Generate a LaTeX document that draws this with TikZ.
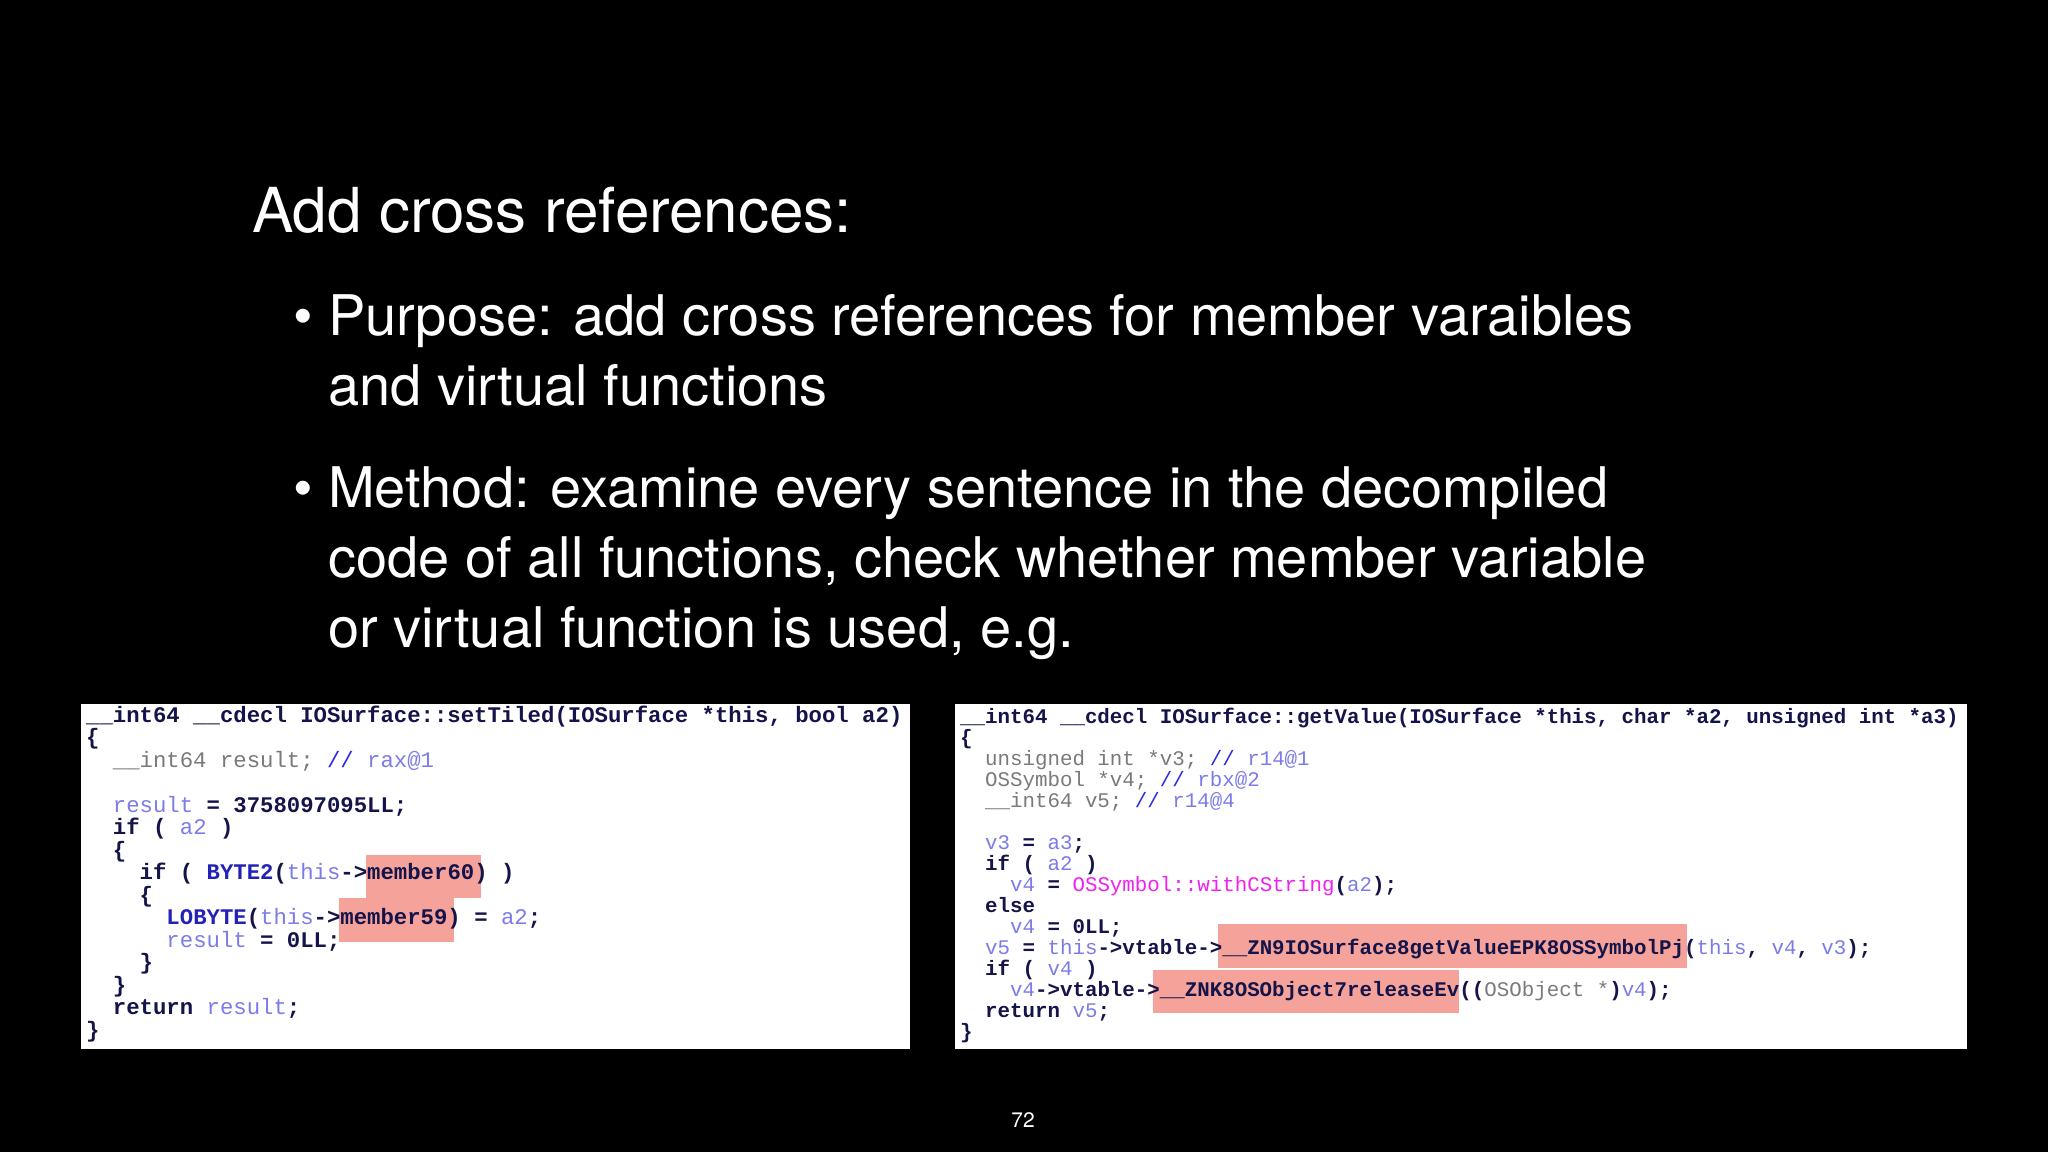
\documentclass[tikz,border=0pt]{standalone}
\usepackage{fontspec}
\setmainfont{TeX Gyre Heros}
\newfontfamily\codefont{Liberation Mono}
\definecolor{kwc}{HTML}{14144A}
\definecolor{vrc}{HTML}{7C7CE8}
\definecolor{cmc}{HTML}{2A2AE0}
\definecolor{grc}{HTML}{7A7A7A}
\definecolor{fnc}{HTML}{2222B8}
\definecolor{mgc}{HTML}{F020F0}
\definecolor{hlc}{HTML}{F4A29A}
\newcommand{\K}[1]{\textcolor{kwc}{\bfseries #1}}
\newcommand{\V}[1]{\textcolor{vrc}{#1}}
\newcommand{\C}[1]{\textcolor{cmc}{#1}}
\newcommand{\G}[1]{\textcolor{grc}{#1}}
\newcommand{\F}[1]{\textcolor{fnc}{\bfseries #1}}
\newcommand{\M}[1]{\textcolor{mgc}{#1}}
\newcommand{\myind}[1]{\hspace*{#1\fontcharwd\font`0}}
\begin{document}
\begin{tikzpicture}[x=1pt,y=-1pt,
  slidetxt/.style={anchor=base west,inner sep=0,text=white,font=\fontsize{56}{60}\selectfont},
  codeL/.style={anchor=base west,inner sep=0,font=\codefont\fontsize{22.3}{22}\selectfont},
  codeR/.style={anchor=base west,inner sep=0,font=\codefont\fontsize{20.8}{21}\selectfont},
  panel/.style={fill=white,draw=none},
  hl/.style={fill=hlc,draw=none}]
\fill[black] (0,0) rectangle (2048,1152);
\useasboundingbox (0,0) rectangle (2048,1152);
\node[slidetxt,font=\fontsize{62}{66}\selectfont] (title) at (252,232) {Add cross references:};
\node[slidetxt] (b1) at (293,335) {\textbullet};
\node[slidetxt] (l1) at (328,335) {Purpose: add cross references for member varaibles};
\node[slidetxt] (l2) at (328,405) {and virtual functions};
\node[slidetxt] (b2) at (293,507) {\textbullet};
\node[slidetxt] (l3) at (328,507) {Method: examine every sentence in the decompiled};
\node[slidetxt] (l4) at (328,577) {code of all functions, check whether member variable};
\node[slidetxt] (l5) at (328,647) {or virtual function is used, e.g.};
\node[anchor=base,inner sep=0,text=white,font=\fontsize{21}{21}\selectfont] (pg) at (1023,1127) {72};
% left panel
\fill[panel] (81,704) rectangle (910,1049);
\fill[hl] (366,855) rectangle (481,898);
\fill[hl] (339,898) rectangle (454,942);
\node[codeL] (cl0) at (86,722) {\K{\_\_int64 \_\_cdecl IOSurface::setTiled(IOSurface *this, bool a2)}};
\node[codeL] (cl1) at (86,744.5) {\K{\{}};
\node[codeL] (cl2) at (86,767) {\myind{2}\G{\_\_int64 result;} \C{//} \V{rax@1}};
\node[codeL] (cl4) at (86,812) {\myind{2}\V{result} \K{= 3758097095LL;}};
\node[codeL] (cl5) at (86,834.5) {\myind{2}\K{if (} \V{a2} \K{)}};
\node[codeL] (cl6) at (86,857) {\myind{2}\K{\{}};
\node[codeL] (cl7) at (86,879.5) {\myind{4}\K{if (} \F{BYTE2}\K{(}\V{this}\K{->member60) )}};
\node[codeL] (cl8) at (86,902) {\myind{4}\K{\{}};
\node[codeL] (cl9) at (86,924.5) {\myind{6}\F{LOBYTE}\K{(}\V{this}\K{->member59) =} \V{a2}\K{;}};
\node[codeL] (cl10) at (86,947) {\myind{6}\V{result} \K{= 0LL;}};
\node[codeL] (cl11) at (86,969.5) {\myind{4}\K{\}}};
\node[codeL] (cl12) at (86,992) {\myind{2}\K{\}}};
\node[codeL] (cl13) at (86,1014.5) {\myind{2}\K{return} \V{result}\K{;}};
\node[codeL] (cl14) at (86,1037) {\K{\}}};
% right panel
\fill[panel] (955,704) rectangle (1967,1049);
\fill[hl] (1218,924) rectangle (1687,968);
\fill[hl] (1153,970) rectangle (1459,1013);
\node[codeR] (cr0) at (960,723) {\K{\_\_int64 \_\_cdecl IOSurface::getValue(IOSurface *this, char *a2, unsigned int *a3)}};
\node[codeR] (cr1) at (960,744) {\K{\{}};
\node[codeR] (cr2) at (960,765) {\myind{2}\G{unsigned int *v3;} \C{//} \V{r14@1}};
\node[codeR] (cr3) at (960,786) {\myind{2}\G{OSSymbol *v4;} \C{//} \V{rbx@2}};
\node[codeR] (cr4) at (960,807) {\myind{2}\G{\_\_int64 v5;} \C{//} \V{r14@4}};
\node[codeR] (cr6) at (960,849) {\myind{2}\V{v3} \K{=} \V{a3}\K{;}};
\node[codeR] (cr7) at (960,870) {\myind{2}\K{if (} \V{a2} \K{)}};
\node[codeR] (cr8) at (960,891) {\myind{4}\V{v4} \K{=} \M{OSSymbol::withCString}\K{(}\V{a2}\K{);}};
\node[codeR] (cr9) at (960,912) {\myind{2}\K{else}};
\node[codeR] (cr10) at (960,933) {\myind{4}\V{v4} \K{= 0LL;}};
\node[codeR] (cr11) at (960,954) {\myind{2}\V{v5} \K{=} \V{this}\K{->vtable->\_\_ZN9IOSurface8getValueEPK8OSSymbolPj(}\V{this}\K{,} \V{v4}\K{,} \V{v3}\K{);}};
\node[codeR] (cr12) at (960,975) {\myind{2}\K{if (} \V{v4} \K{)}};
\node[codeR] (cr13) at (960,996) {\myind{4}\V{v4}\K{->vtable->\_\_ZNK8OSObject7releaseEv((}\G{OSObject *}\K{)}\V{v4}\K{);}};
\node[codeR] (cr14) at (960,1017) {\myind{2}\K{return} \V{v5}\K{;}};
\node[codeR] (cr15) at (960,1038) {\K{\}}};
\end{tikzpicture}
\end{document}
